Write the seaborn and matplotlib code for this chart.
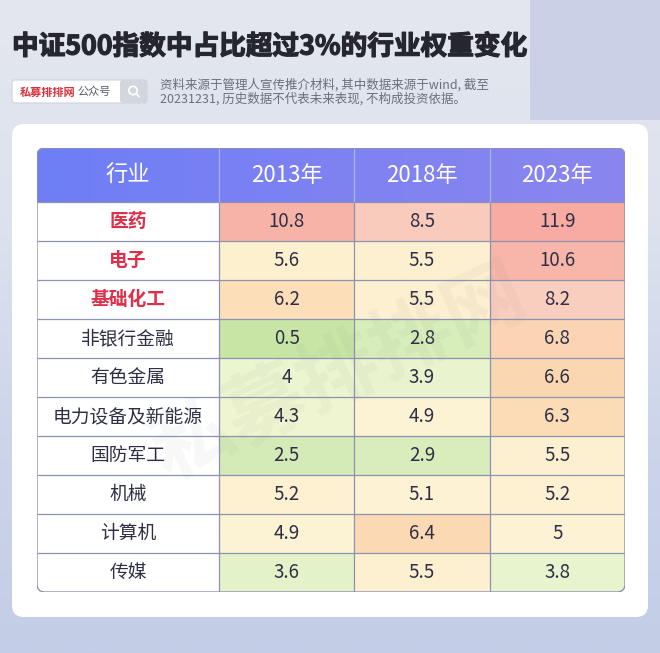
import numpy as np
import pandas as pd
import matplotlib
matplotlib.use("Agg")
import matplotlib.pyplot as plt
import matplotlib.patheffects as pe
from matplotlib.colors import LinearSegmentedColormap
from matplotlib.patches import FancyBboxPatch, Rectangle, Circle
import seaborn as sns

# === Data ===
industries = ["医药", "电子", "基础化工", "非银行金融", "有色金属",
              "电力设备及新能源", "国防军工", "机械", "计算机", "传媒"]
years = ["2013年", "2018年", "2023年"]
w2013 = [10.8, 5.6, 6.2, 0.5, 4, 4.3, 2.5, 5.2, 4.9, 3.6]
w2018 = [8.5, 5.5, 5.5, 2.8, 3.9, 4.9, 2.9, 5.1, 6.4, 5.5]
w2023 = [11.9, 10.6, 8.2, 6.8, 6.6, 6.3, 5.5, 5.2, 5, 3.8]
highlight = ["医药", "电子", "基础化工"]

title = "中证500指数中占比超过3%的行业权重变化"
note = ("资料来源于管理人宣传推介材料, 其中数据来源于wind, 截至\n"
        "20231231, 历史数据不代表未来表现, 不构成投资依据。")

df = pd.DataFrame({"2013年": w2013, "2018年": w2018, "2023年": w2023}, index=industries)
labels = df.map(lambda v: f"{v:g}").values

sns.set_theme(style="white")
plt.rcParams['font.family'] = ['Noto Sans CJK SC', 'DejaVu Sans']

W, H = 660, 653
fig = plt.figure(figsize=(W / 100, H / 100), dpi=100)

# --- background layer in pixel coords ---
bg = fig.add_axes([0, 0, 1, 1], zorder=0)
bg.set_xlim(0, W)
bg.set_ylim(H, 0)
bg.axis("off")
grad = LinearSegmentedColormap.from_list("bg", ["#e4e7ef", "#dde2ee", "#ccd5ea", "#c3cde6"])
bg.imshow(np.linspace(0, 1, 256).reshape(-1, 1), cmap=grad, extent=(0, W, H, 0), aspect="auto", zorder=0)
bg.add_patch(Rectangle((530, 0), 130, 120, color="#cad1e7", zorder=1, lw=0))
bg.add_patch(FancyBboxPatch((12, 124), 636, 493, boxstyle="round,pad=0,rounding_size=12",
                            fc="white", ec="none", zorder=2))

bg.text(12, 47, title, fontsize=19.2, fontweight="black", color="#25262e", va="center", ha="left",
        zorder=3, path_effects=[pe.withStroke(linewidth=0.9, foreground="#25262e")])

# search box
bg.add_patch(FancyBboxPatch((12, 80), 135, 23, boxstyle="round,pad=0,rounding_size=3",
                            fc="white", ec="#cfd3dc", lw=0.8, zorder=3))
bg.add_patch(FancyBboxPatch((120, 80), 27, 23, boxstyle="round,pad=0,rounding_size=3",
                            fc="#d3d6de", ec="none", zorder=4))
bg.add_patch(Circle((133, 90.5), 4.2, fc="none", ec="white", lw=1.2, zorder=5))
bg.plot([136, 139], [93.5, 96.5], color="white", lw=1.2, zorder=5)
brand = bg.text(20, 92, "私募排排网", fontsize=8, fontweight="bold", color="#d8313b", va="center", zorder=5)
bg.annotate("公众号", xy=(1, 0.5), xycoords=brand, xytext=(1, 0), textcoords="offset points",
            fontsize=8, color="#555a66", va="center", ha="left", zorder=5)
bg.text(160, 92, note, fontsize=9, color="#6b6f7a", va="center", linespacing=1.05, zorder=5)

# --- table ---
left, right, top, bottom = 37, 625, 148, 592
lab_w = 1.345
head_h = 1.385
ax = fig.add_axes([left / W, 1 - bottom / H, (right - left) / W, (bottom - top) / H], zorder=1)
ax.set_facecolor("white")

cmap = LinearSegmentedColormap.from_list("weights", [
    (0.0, "#c8e5a6"), (0.193, "#d6ecb9"), (0.307, "#ebf5d0"), (0.36, "#f6f5d2"),
    (0.395, "#fdf2d4"), (0.447, "#fdf0cf"), (0.526, "#fbd7b0"), (0.684, "#f9cdbf"),
    (0.877, "#f8b6aa"), (1.0, "#f8aba2")])

sns.heatmap(df, ax=ax, cmap=cmap, vmin=0.5, vmax=11.9, annot=labels, fmt="",
            cbar=False, linewidths=0,
            annot_kws={"fontsize": 13.5, "color": "#2e2f45"})

clip = FancyBboxPatch((left, top), right - left, bottom - top,
                      boxstyle="round,pad=0,rounding_size=8", transform=bg.transData)
ax.collections[0].set_clip_path(clip)

hcmap = LinearSegmentedColormap.from_list("head", ["#6e7ef6", "#7e82f2", "#8b86ee"])
img = ax.imshow(np.linspace(0, 1, 256).reshape(1, -1), cmap=hcmap, aspect="auto",
                extent=(-lab_w, 3, 0, -head_h), zorder=2)
img.set_clip_path(clip)

for j, y in enumerate(years):
    ax.text(j + 0.5, -head_h / 2, y, ha="center", va="center", fontsize=16,
            fontweight="medium", color="white", zorder=4)
ax.text(-lab_w / 2, -head_h / 2, "行业", ha="center", va="center", fontsize=16,
        fontweight="medium", color="white", zorder=4)

for i, name in enumerate(industries):
    is_hl = name in highlight
    ax.text(-lab_w / 2, i + 0.5, name, ha="center", va="center", fontsize=13.5,
            color="#df2e47" if is_hl else "#2e2f45",
            fontweight="bold" if is_hl else "normal", zorder=4)

# grid lines
ax.hlines(range(0, 10), -lab_w, 3, color="#8e91b2", lw=0.9, zorder=3)
ax.vlines([0, 1, 2], 0, 10, color="#8e91b2", lw=0.9, zorder=3)
ax.vlines([0, 1, 2], -head_h, 0, color="#a9b0f5", lw=0.9, zorder=3)

border = FancyBboxPatch((left, top), right - left, bottom - top,
                        boxstyle="round,pad=0,rounding_size=8", transform=bg.transData,
                        fc="none", ec="#8e91b2", lw=1.0, zorder=5)
ax.add_artist(border)

# watermark
ax.text(340, 375, "私募排排网", transform=bg.transData, fontsize=58, fontweight="black",
        color="#808080", alpha=0.06, rotation=25, ha="center", va="center", zorder=6)

ax.set_xlim(-lab_w, 3)
ax.set_ylim(10, -head_h)
ax.set_xticks([])
ax.set_yticks([])
ax.set_xlabel("")
ax.set_ylabel("")
for s in ax.spines.values():
    s.set_visible(False)

fig.savefig("out.png", dpi=100)
